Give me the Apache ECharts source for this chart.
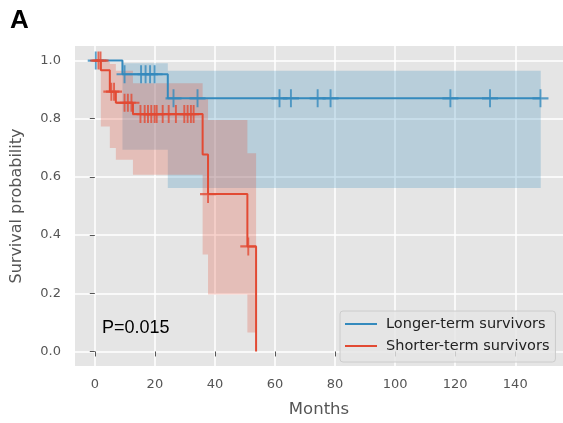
<!DOCTYPE html>
<html>
<head>
<meta charset="utf-8">
<script src="https://cdn.jsdelivr.net/npm/echarts@6/dist/echarts.min.js"></script>
<style>
html,body{margin:0;padding:0;background:#fff;}
#c{width:563px;height:423px;}
</style>
</head>
<body>
<div id="c"></div>
<script>
// ---- data ----
const xTicks = [0, 20, 40, 60, 80, 100, 120, 140];
const yTicks = [0, 0.2, 0.4, 0.6, 0.8, 1.0];

const longName = 'Longer-term survivors';
const longTimes = [0, 9.2, 24.3, 148.5];
const longSurv  = [1.0, 0.953, 0.870, 0.870];
const longLower = [1.0, 0.693, 0.562, 0.562];
const longUpper = [1.0, 0.991, 0.965, 0.965];
const longCensor = [0.3, 9.9, 15.4, 16.9, 18.4, 19.9, 26.2, 34.2, 61.5, 65.3, 74.2, 78.5, 118.4, 131.6, 148.4];

const shortName = 'Shorter-term survivors';
const shortTimes = [0, 2.0, 5.0, 7.0, 12.7, 35.9, 37.7, 50.8, 53.7];
const shortSurv  = [1.0, 0.967, 0.893, 0.855, 0.816, 0.677, 0.541, 0.361, 0.0];
const shortLower = [1.0, 0.773, 0.699, 0.659, 0.607, 0.333, 0.196, 0.065, 0.065];
const shortUpper = [1.0, 0.996, 0.988, 0.965, 0.922, 0.870, 0.796, 0.681, 0.065];
const shortCensor = [1.2, 1.9, 5.5, 6.4, 9.9, 11.0, 12.2, 15.2, 16.6, 17.7, 18.8, 19.9, 20.6, 22.6, 24.6, 27.0, 29.8, 30.9, 32.0, 32.9, 37.7, 51.1];

const pText = 'P=0.015';
const panelLabel = 'A';

// ---- helpers ----
const BLUE = '#348ABD', RED = '#E24A33';
function survAt(times, surv, t) {
  let v = surv[0];
  for (let i = 0; i < times.length; i++) { if (times[i] <= t) v = surv[i]; }
  return v;
}
function pairs(xs, ys) { return xs.map((x, i) => [x, ys[i]]); }
const plusPath = 'path://M8.8,0h2.4v8.8h8.8v2.4h-8.8v8.8h-2.4v-8.8h-8.8v-2.4h8.8z';

function bandSeries(name, times, lower, upper, fill) {
  return {
    name: name + ' CI', type: 'custom', data: [[times[0], lower[0]]], z: 1, silent: true, clip: true,
    renderItem: function (params, api) {
      const top = [], bot = [];
      for (let i = 0; i < times.length - 1; i++) {
        top.push(api.coord([times[i], upper[i]]), api.coord([times[i + 1], upper[i]]));
        bot.push(api.coord([times[i], lower[i]]), api.coord([times[i + 1], lower[i]]));
      }
      const pts = top.concat(bot.reverse());
      return { type: 'polygon', shape: { points: pts },
        style: { fill: fill, stroke: 'rgba(0,0,0,0)', lineWidth: 0 } };
    }
  };
}

const chart = echarts.init(document.getElementById('c'), null, { renderer: 'canvas' });
const option = {
  animation: false,
  grid: { left: 75, top: 46, right: -3, bottom: 56.4, show: true, backgroundColor: '#E5E5E5', borderWidth: 0 },
  xAxis: {
    type: 'value', min: -6.6, max: 155.9,
    name: 'Months', nameLocation: 'middle', nameGap: 35,
    nameTextStyle: { color: '#555', fontSize: 16.5, fontFamily: 'DejaVu Sans' },
    axisLine: { show: false },
    axisTick: { show: true, length: 5, lineStyle: { color: '#555', width: 1 }, customValues: xTicks },
    axisLabel: { color: '#555', fontSize: 13, fontFamily: 'DejaVu Sans', margin: 12, customValues: xTicks },
    splitLine: { show: true, lineStyle: { color: '#fff', width: 1.5 } }
  },
  yAxis: {
    type: 'value', min: -0.05, max: 1.05,
    name: 'Survival probability', nameLocation: 'middle', nameGap: 50,
    nameTextStyle: { color: '#555', fontSize: 16, fontFamily: 'DejaVu Sans' },
    axisLine: { show: false },
    axisTick: { show: true, length: 5, lineStyle: { color: '#555', width: 1 }, customValues: yTicks },
    axisLabel: { color: '#555', fontSize: 13, fontFamily: 'DejaVu Sans', margin: 14,
      formatter: v => v.toFixed(1), customValues: yTicks },
    splitLine: { show: true, lineStyle: { color: '#fff', width: 1.5 } }
  },
  legend: {
    orient: 'vertical', left: 340, top: 311,
    data: [longName, shortName],
    icon: 'rect', itemWidth: 32, itemHeight: 2, itemGap: 6,
    padding: [5, 6, 8, 5],
    backgroundColor: 'rgba(229,229,229,0.8)', borderColor: '#cccccc', borderWidth: 1, borderRadius: 3,
    textStyle: { color: '#222', fontSize: 14.5, fontFamily: 'DejaVu Sans', lineHeight: 16, padding: [0, 0, 0, 4] }
  },
  graphic: [
    { type: 'text', left: 102, top: 319, z: 100, style: { text: pText, fill: '#000', font: '18px "Liberation Sans"' } },
    { type: 'text', left: 10, top: 8, style: { text: panelLabel, fill: '#000', font: 'bold 26px "Liberation Sans"' } }
  ],
  series: [
    bandSeries(longName, longTimes, longLower, longUpper, 'rgba(52,138,189,0.25)'),
    bandSeries(shortName, shortTimes, shortLower, shortUpper, 'rgba(226,74,51,0.25)'),
    { name: longName, type: 'line', step: 'end', data: pairs(longTimes, longSurv), symbol: 'none',
      color: BLUE, lineStyle: { color: BLUE, width: 2 }, z: 3 },
    { name: longName + ' censored', type: 'scatter', data: longCensor.map(t => [t, survAt(longTimes, longSurv, t)]),
      symbol: plusPath, symbolSize: [16, 18], itemStyle: { color: BLUE }, z: 3 },
    { name: shortName, type: 'line', step: 'end', data: pairs(shortTimes, shortSurv), symbol: 'none',
      color: RED, lineStyle: { color: RED, width: 2 }, z: 4 },
    { name: shortName + ' censored', type: 'scatter', data: shortCensor.map(t => [t, survAt(shortTimes, shortSurv, t)]),
      symbol: plusPath, symbolSize: [16, 18], itemStyle: { color: RED }, z: 4 }
  ]
};
chart.setOption(option);
</script>
</body>
</html>
